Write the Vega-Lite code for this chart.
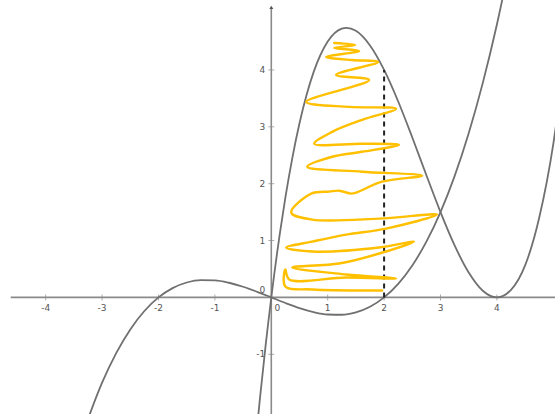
{
  "$schema": "https://vega.github.io/schema/vega-lite/v6.json",
  "width": 556,
  "height": 415,
  "autosize": {"type": "fit", "contains": "padding"},
  "padding": 0,
  "background": "white",
  "config": {"view": {"stroke": null}},
  "datasets": {
    "curves": [
      {"s": "f", "x": -3.3, "y": -2.274}, {"s": "f", "x": -3.0, "y": -1.5}, {"s": "f", "x": -2.75, "y": -0.98},
      {"s": "f", "x": -2.5, "y": -0.5625}, {"s": "f", "x": -2.25, "y": -0.239}, {"s": "f", "x": -2.0, "y": 0},
      {"s": "f", "x": -1.75, "y": 0.164}, {"s": "f", "x": -1.5, "y": 0.2625}, {"s": "f", "x": -1.25, "y": 0.305},
      {"s": "f", "x": -1.0, "y": 0.3}, {"s": "f", "x": -0.75, "y": 0.258}, {"s": "f", "x": -0.5, "y": 0.1875},
      {"s": "f", "x": -0.25, "y": 0.098}, {"s": "f", "x": 0, "y": 0}, {"s": "f", "x": 0.25, "y": -0.098},
      {"s": "f", "x": 0.5, "y": -0.1875}, {"s": "f", "x": 0.75, "y": -0.258}, {"s": "f", "x": 1.0, "y": -0.3},
      {"s": "f", "x": 1.25, "y": -0.305}, {"s": "f", "x": 1.5, "y": -0.2625}, {"s": "f", "x": 1.75, "y": -0.164},
      {"s": "f", "x": 2.0, "y": 0}, {"s": "f", "x": 2.25, "y": 0.239}, {"s": "f", "x": 2.5, "y": 0.5625},
      {"s": "f", "x": 2.75, "y": 0.98}, {"s": "f", "x": 3.0, "y": 1.5}, {"s": "f", "x": 3.25, "y": 2.133},
      {"s": "f", "x": 3.5, "y": 2.8875}, {"s": "f", "x": 3.75, "y": 3.773}, {"s": "f", "x": 4.0, "y": 4.8},
      {"s": "f", "x": 4.25, "y": 5.977},
      {"s": "g", "x": -0.3, "y": -2.774}, {"s": "g", "x": -0.2, "y": -1.764}, {"s": "g", "x": -0.1, "y": -0.8405},
      {"s": "g", "x": -0.05, "y": -0.41}, {"s": "g", "x": 0, "y": 0}, {"s": "g", "x": 0.05, "y": 0.39},
      {"s": "g", "x": 0.1, "y": 0.7605}, {"s": "g", "x": 0.15, "y": 1.112}, {"s": "g", "x": 0.25, "y": 1.758},
      {"s": "g", "x": 0.375, "y": 2.464}, {"s": "g", "x": 0.5, "y": 3.0625}, {"s": "g", "x": 0.625, "y": 3.559},
      {"s": "g", "x": 0.75, "y": 3.961}, {"s": "g", "x": 1.0, "y": 4.5}, {"s": "g", "x": 1.25, "y": 4.727},
      {"s": "g", "x": 1.333, "y": 4.741}, {"s": "g", "x": 1.5, "y": 4.6875}, {"s": "g", "x": 1.75, "y": 4.43},
      {"s": "g", "x": 2.0, "y": 4.0}, {"s": "g", "x": 2.25, "y": 3.445}, {"s": "g", "x": 2.5, "y": 2.8125},
      {"s": "g", "x": 2.75, "y": 2.148}, {"s": "g", "x": 3.0, "y": 1.5}, {"s": "g", "x": 3.25, "y": 0.914},
      {"s": "g", "x": 3.5, "y": 0.4375}, {"s": "g", "x": 3.75, "y": 0.117}, {"s": "g", "x": 4.0, "y": 0},
      {"s": "g", "x": 4.25, "y": 0.133}, {"s": "g", "x": 4.5, "y": 0.5625}, {"s": "g", "x": 4.75, "y": 1.4},
      {"s": "g", "x": 5.0, "y": 2.7}, {"s": "g", "x": 5.1, "y": 3.4}
    ],
    "scribble": [
      {"i": 1, "x": 1.115, "y": 4.474}, {"i": 2, "x": 1.487, "y": 4.439}, {"i": 3, "x": 1.115, "y": 4.386},
      {"i": 4, "x": 1.558, "y": 4.333}, {"i": 5, "x": 0.973, "y": 4.228}, {"i": 6, "x": 1.434, "y": 4.175},
      {"i": 7, "x": 1.894, "y": 4.14}, {"i": 8, "x": 1.15, "y": 3.912}, {"i": 9, "x": 1.735, "y": 3.825},
      {"i": 10, "x": 0.619, "y": 3.439}, {"i": 11, "x": 1.381, "y": 3.351}, {"i": 12, "x": 2.212, "y": 3.316},
      {"i": 13, "x": 1.611, "y": 3.123}, {"i": 14, "x": 1.08, "y": 2.912}, {"i": 15, "x": 0.761, "y": 2.702},
      {"i": 16, "x": 1.611, "y": 2.702}, {"i": 17, "x": 2.265, "y": 2.684}, {"i": 18, "x": 1.611, "y": 2.561},
      {"i": 19, "x": 1.08, "y": 2.474}, {"i": 20, "x": 0.637, "y": 2.298}, {"i": 21, "x": 1.611, "y": 2.211},
      {"i": 22, "x": 2.673, "y": 2.14}, {"i": 23, "x": 1.965, "y": 2.035}, {"i": 24, "x": 1.504, "y": 1.842},
      {"i": 25, "x": 1.416, "y": 1.825}, {"i": 26, "x": 1.204, "y": 1.877}, {"i": 27, "x": 1.027, "y": 1.86},
      {"i": 28, "x": 0.708, "y": 1.825}, {"i": 29, "x": 0.354, "y": 1.491}, {"i": 30, "x": 0.726, "y": 1.368},
      {"i": 31, "x": 1.912, "y": 1.386}, {"i": 32, "x": 2.938, "y": 1.456}, {"i": 33, "x": 2.035, "y": 1.211},
      {"i": 34, "x": 1.327, "y": 1.105}, {"i": 35, "x": 0.726, "y": 0.982}, {"i": 36, "x": 0.265, "y": 0.877},
      {"i": 37, "x": 0.726, "y": 0.807}, {"i": 38, "x": 1.912, "y": 0.877}, {"i": 39, "x": 2.531, "y": 0.982},
      {"i": 40, "x": 1.912, "y": 0.772}, {"i": 41, "x": 1.204, "y": 0.596}, {"i": 42, "x": 0.372, "y": 0.526},
      {"i": 43, "x": 1.327, "y": 0.404}, {"i": 44, "x": 2.212, "y": 0.333}, {"i": 45, "x": 1.327, "y": 0.351},
      {"i": 46, "x": 0.319, "y": 0.316}, {"i": 47, "x": 0.248, "y": 0.491}, {"i": 48, "x": 0.248, "y": 0.193},
      {"i": 49, "x": 0.726, "y": 0.14}, {"i": 50, "x": 1.965, "y": 0.123}
    ],
    "xticks": [
      {"v": -4, "t": "-4"}, {"v": -3, "t": "-3"}, {"v": -2, "t": "-2"}, {"v": -1, "t": "-1"},
      {"v": 1, "t": "1"}, {"v": 2, "t": "2"}, {"v": 3, "t": "3"}, {"v": 4, "t": "4"}
    ],
    "yticks": [
      {"v": -1, "t": "-1"}, {"v": 1, "t": "1"}, {"v": 2, "t": "2"}, {"v": 3, "t": "3"}, {"v": 4, "t": "4"}
    ]
  },
  "layer": [
    {
      "data": {"values": [{}]},
      "mark": {"type": "rule", "color": "#8a8a8a", "strokeWidth": 1.6},
      "encoding": {
        "x": {"datum": -4.62, "type": "quantitative", "scale": {"domain": [-4.81, 5.03], "nice": false, "zero": false}, "axis": null},
        "x2": {"datum": 5.03},
        "y": {"datum": 0, "type": "quantitative", "scale": {"domain": [-2.05, 5.23], "nice": false, "zero": false}, "axis": null}
      }
    },
    {
      "data": {"values": [{}]},
      "mark": {"type": "rule", "color": "#8a8a8a", "strokeWidth": 1.6},
      "encoding": {
        "x": {"datum": 0, "type": "quantitative", "scale": {"domain": [-4.81, 5.03], "nice": false, "zero": false}, "axis": null},
        "y": {"datum": -2.05, "type": "quantitative", "scale": {"domain": [-2.05, 5.23], "nice": false, "zero": false}, "axis": null},
        "y2": {"datum": 5.1}
      }
    },
    {
      "data": {"values": [{}]},
      "mark": {"type": "point", "shape": "triangle-up", "filled": true, "size": 16, "color": "#555555", "opacity": 1},
      "encoding": {
        "x": {"datum": 0, "type": "quantitative", "scale": {"domain": [-4.81, 5.03], "nice": false, "zero": false}, "axis": null},
        "y": {"datum": 5.1, "type": "quantitative", "scale": {"domain": [-2.05, 5.23], "nice": false, "zero": false}, "axis": null}
      }
    },
    {
      "data": {"name": "xticks"},
      "mark": {"type": "tick", "orient": "vertical", "size": 6, "thickness": 1, "color": "#8a8a8a"},
      "encoding": {
        "x": {"field": "v", "type": "quantitative", "scale": {"domain": [-4.81, 5.03], "nice": false, "zero": false}, "axis": null},
        "y": {"datum": 0, "type": "quantitative", "scale": {"domain": [-2.05, 5.23], "nice": false, "zero": false}, "axis": null}
      }
    },
    {
      "data": {"name": "xticks"},
      "mark": {"type": "text", "dy": 11, "fontSize": 9, "font": "DejaVu Sans", "color": "#555555", "align": "center", "baseline": "middle"},
      "encoding": {
        "x": {"field": "v", "type": "quantitative", "scale": {"domain": [-4.81, 5.03], "nice": false, "zero": false}, "axis": null},
        "y": {"datum": 0, "type": "quantitative", "scale": {"domain": [-2.05, 5.23], "nice": false, "zero": false}, "axis": null},
        "text": {"field": "t"}
      }
    },
    {
      "data": {"name": "yticks"},
      "mark": {"type": "tick", "orient": "horizontal", "size": 6, "thickness": 1, "color": "#8a8a8a"},
      "encoding": {
        "x": {"datum": 0, "type": "quantitative", "scale": {"domain": [-4.81, 5.03], "nice": false, "zero": false}, "axis": null},
        "y": {"field": "v", "type": "quantitative", "scale": {"domain": [-2.05, 5.23], "nice": false, "zero": false}, "axis": null}
      }
    },
    {
      "data": {"name": "yticks"},
      "mark": {"type": "text", "dx": -6, "fontSize": 9, "font": "DejaVu Sans", "color": "#555555", "align": "right", "baseline": "middle"},
      "encoding": {
        "x": {"datum": 0, "type": "quantitative", "scale": {"domain": [-4.81, 5.03], "nice": false, "zero": false}, "axis": null},
        "y": {"field": "v", "type": "quantitative", "scale": {"domain": [-2.05, 5.23], "nice": false, "zero": false}, "axis": null},
        "text": {"field": "t"}
      }
    },
    {
      "data": {"values": [{"t": "0"}]},
      "mark": {"type": "text", "dx": 6, "dy": 11, "fontSize": 9, "font": "DejaVu Sans", "color": "#555555", "align": "center", "baseline": "middle"},
      "encoding": {
        "x": {"datum": 0, "type": "quantitative", "scale": {"domain": [-4.81, 5.03], "nice": false, "zero": false}, "axis": null},
        "y": {"datum": 0, "type": "quantitative", "scale": {"domain": [-2.05, 5.23], "nice": false, "zero": false}, "axis": null},
        "text": {"field": "t"}
      }
    },
    {
      "data": {"values": [{"t": "0"}]},
      "mark": {"type": "text", "dx": -9, "dy": -7, "fontSize": 9, "font": "DejaVu Sans", "color": "#555555", "align": "center", "baseline": "middle"},
      "encoding": {
        "x": {"datum": 0, "type": "quantitative", "scale": {"domain": [-4.81, 5.03], "nice": false, "zero": false}, "axis": null},
        "y": {"datum": 0, "type": "quantitative", "scale": {"domain": [-2.05, 5.23], "nice": false, "zero": false}, "axis": null},
        "text": {"field": "t"}
      }
    },
    {
      "data": {"name": "curves"},
      "mark": {"type": "line", "color": "#707070", "strokeWidth": 1.8, "interpolate": "monotone", "clip": true},
      "encoding": {
        "x": {"field": "x", "type": "quantitative", "scale": {"domain": [-4.81, 5.03], "nice": false, "zero": false}, "axis": null},
        "y": {"field": "y", "type": "quantitative", "scale": {"domain": [-2.05, 5.23], "nice": false, "zero": false}, "axis": null},
        "detail": {"field": "s"}
      }
    },
    {
      "data": {"values": [{}]},
      "mark": {"type": "rule", "color": "#222222", "strokeWidth": 2, "strokeDash": [5, 4]},
      "encoding": {
        "x": {"datum": 2, "type": "quantitative", "scale": {"domain": [-4.81, 5.03], "nice": false, "zero": false}, "axis": null},
        "y": {"datum": 0, "type": "quantitative", "scale": {"domain": [-2.05, 5.23], "nice": false, "zero": false}, "axis": null},
        "y2": {"datum": 4}
      }
    },
    {
      "data": {"name": "scribble"},
      "mark": {"type": "line", "color": "#FFC000", "strokeWidth": 2.4, "interpolate": "catmull-rom", "strokeJoin": "round", "strokeCap": "round"},
      "encoding": {
        "x": {"field": "x", "type": "quantitative", "scale": {"domain": [-4.81, 5.03], "nice": false, "zero": false}, "axis": null},
        "y": {"field": "y", "type": "quantitative", "scale": {"domain": [-2.05, 5.23], "nice": false, "zero": false}, "axis": null},
        "order": {"field": "i", "type": "quantitative"}
      }
    }
  ]
}
